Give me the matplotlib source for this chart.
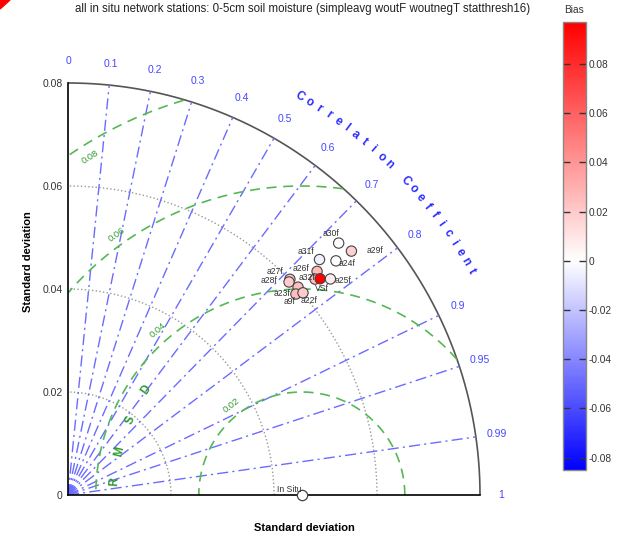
import numpy as np
import matplotlib
matplotlib.use("Agg")
import matplotlib.pyplot as plt
from matplotlib.colors import LinearSegmentedColormap, Normalize
from matplotlib.patches import Polygon

plt.rcParams['font.family'] = ['Liberation Sans', 'DejaVu Sans']

# station statistics: standard deviation, correlation with in situ, bias
stations = ['a30f', 'a29f', 'a31f', 'a24f', 'a26f', 'a32f', 'a25f',
            'a27f', 'a28f', 'a23f', 'a9f', 'a22f', 'VSf']
std = [0.0718, 0.0726, 0.0669, 0.0691, 0.0650, 0.0637, 0.0660,
       0.0601, 0.0596, 0.0602, 0.0590, 0.0602, 0.0645]
corr = [0.732, 0.758, 0.730, 0.753, 0.744, 0.753, 0.772,
        0.717, 0.720, 0.742, 0.750, 0.758, 0.759]
bias = [0.001, 0.018, -0.004, 0.0, 0.026, 0.024, 0.008,
        0.022, 0.020, 0.024, 0.025, 0.020, 0.097]
ref_std = 0.0454
ref_name = 'In Situ'

std_ticks = [0, 0.02, 0.04, 0.06, 0.08]
corr_ticks = [0.1, 0.2, 0.3, 0.4, 0.5, 0.6, 0.7, 0.8, 0.9, 0.95, 0.99]
rms_levels = [0.02, 0.04, 0.06, 0.08]
bias_ticks = [-0.08, -0.06, -0.04, -0.02, 0, 0.02, 0.04, 0.06, 0.08]
bias_min, bias_max = -0.085, 0.097

title = 'all in situ network stations: 0-5cm soil moisture (simpleavg woutF woutnegT statthresh16)'

# label offsets in pixels (right, down)
label_off = {'a30f': (-8, -10), 'a29f': (24, -1), 'a31f': (-14, -8), 'a24f': (11, 3),
             'a26f': (-16, -3), 'a32f': (-8, -2), 'a25f': (13, 2), 'a27f': (-15, -8),
             'a28f': (-20, -1), 'a23f': (-16, 6), 'a9f': (-6, 7), 'a22f': (6, 8),
             'VSf': (2, 10)}

W, H = 621, 536
scale = 5150.0  # pixels per unit of standard deviation
smax = 0.08
blue_line = '#6b6bff'
blue_txt = '#4646ff'
green = '#55b855'
green_txt = '#2e9a2e'

fig = plt.figure(figsize=(W / 100, H / 100), dpi=100)
ax = fig.add_axes([68 / W, 41 / H, 440 / W, 440 / H])
ax.set_xlim(0, 440 / scale)
ax.set_ylim(0, 440 / scale)
ax.patch.set_visible(False)

for s in ['top', 'right']:
    ax.spines[s].set_visible(False)
ax.spines['left'].set_bounds(0, smax)
ax.spines['bottom'].set_bounds(0, smax)
ax.spines['left'].set_linewidth(1.2)
ax.spines['bottom'].set_linewidth(1.2)
ax.set_xticks([])
ax.set_yticks(std_ticks)
ax.set_yticklabels(['0' if t == 0 else f'{t:.2f}' for t in std_ticks])
ax.tick_params(axis='y', length=0, pad=4, labelsize=7.5, labelcolor='#333333')

th = np.linspace(0, np.pi / 2, 300)

# standard deviation arcs
for s in std_ticks[1:-1]:
    ax.plot(s * np.cos(th), s * np.sin(th), ls=':', color='#999999', lw=1)
ax.plot(smax * np.cos(th), smax * np.sin(th), color='#555555', lw=1.2)

# correlation rays
for c in corr_ticks:
    a = np.arccos(c)
    ax.plot([0, smax * np.cos(a)], [0, smax * np.sin(a)], color=blue_line,
            lw=1, dashes=(8, 3, 1.5, 3))
for c in [0] + corr_ticks + [1]:
    a = np.arccos(c)
    lab = '0' if c == 0 else ('1' if c == 1 else f'{c:g}')
    ax.text(0.0842 * np.cos(a), 0.0842 * np.sin(a), lab, color=blue_txt,
            fontsize=7.5, ha='center', va='center', clip_on=False)

# curved axis title for the correlation
word = 'Correlation Coefficient'
for i, ch in enumerate(word):
    if ch == ' ':
        continue
    a = np.radians(59.8 - 1.4 * i)
    ax.text(0.0895 * np.cos(a), 0.0895 * np.sin(a), ch, color='#2b2bff',
            fontsize=8.5, fontweight='bold', ha='center', va='center',
            rotation=np.degrees(a) - 90, clip_on=False)

# centred RMS difference circles
tt = np.linspace(0, np.pi, 600)
for r in rms_levels:
    x = ref_std + r * np.cos(tt)
    y = r * np.sin(tt)
    keep = (x >= 0) & (x ** 2 + y ** 2 <= smax ** 2 * 1.0005)
    ax.plot(np.where(keep, x, np.nan), np.where(keep, y, np.nan),
            color=green, lw=1.2, dashes=(6, 4))

rms_lab_pos = {0.02: (128, 0.0222), 0.04: (131, 0.0425), 0.06: (125.5, 0.062), 0.08: (122, 0.0775)}
for r in rms_levels:
    ang, d = rms_lab_pos[r]
    a = np.radians(ang)
    ax.text(ref_std + d * np.cos(a), d * np.sin(a), f'{r:.2f}', color=green_txt,
            fontsize=6.8, ha='center', va='center', rotation=ang - 90)

for ch, ang in zip('RMSD', [176, 166.7, 156.4, 146]):
    a = np.radians(ang)
    ax.text(ref_std + 0.0364 * np.cos(a), 0.0364 * np.sin(a), ch, color=green_txt,
            fontsize=8.5, fontweight='bold', ha='center', va='center', rotation=ang - 90)

# stations
cmap = LinearSegmentedColormap.from_list(
    'bias', [(0, (0, 0, 1)), (-bias_min / (bias_max - bias_min), (1, 1, 1)), (1, (1, 0, 0))])
norm = Normalize(bias_min, bias_max)
std_a = np.array(std)
ang_a = np.arccos(np.array(corr))
px = std_a * np.cos(ang_a)
py = std_a * np.sin(ang_a)
sc = ax.scatter(px, py, c=bias, cmap=cmap, norm=norm, s=55,
                edgecolors='#444444', linewidths=0.8, zorder=5)
for name, x0, y0 in zip(stations, px, py):
    dx, dy = label_off[name]
    ax.annotate(name, (x0, y0), xytext=(dx * 0.72, -dy * 0.72), textcoords='offset points',
                fontsize=6.2, color='#333333', ha='center', va='center', zorder=6)

ax.scatter([ref_std], [0], s=55, facecolors='white', edgecolors='#444444',
           linewidths=0.9, zorder=6, clip_on=False)
ax.annotate(ref_name, (ref_std, 0), xytext=(-13 * 0.72, 6 * 0.72), textcoords='offset points',
            fontsize=6.2, color='#333333', ha='center', va='center', zorder=7)

fig.text(304 / W, 1 - 528 / H, 'Standard deviation', fontsize=8, fontweight='bold',
         ha='center', va='center')
fig.text(28 / W, 1 - 262 / H, 'Standard deviation', fontsize=8, fontweight='bold',
         ha='center', va='center', rotation=90)
fig.text(303 / W, 1 - 9 / H, title, fontsize=8.3, ha='center', va='center', color='#222222')

# colour bar
cax = fig.add_axes([563 / W, 1 - 470 / H, 23 / W, 448 / H])
cb = fig.colorbar(sc, cax=cax, ticks=bias_ticks)
cb.ax.set_yticklabels(['0' if t == 0 else f'{t:g}' for t in bias_ticks])
cb.ax.tick_params(direction='in', length=5, width=1, left=True, right=True,
                  labelleft=False, labelright=True, labelsize=7.3, labelcolor='#333333',
                  color='#333333', pad=2)
cb.outline.set_edgecolor('#888888')
cb.outline.set_linewidth(1)
fig.text(574 / W, 1 - 10 / H, 'Bias', fontsize=7.3, ha='center', va='center', color='#333333')

fig.add_artist(Polygon([(0, 1), (10 / W, 1), (0, 1 - 9 / H)], closed=True,
                       transform=fig.transFigure, color='red'))

fig.savefig('out.png', dpi=100)
